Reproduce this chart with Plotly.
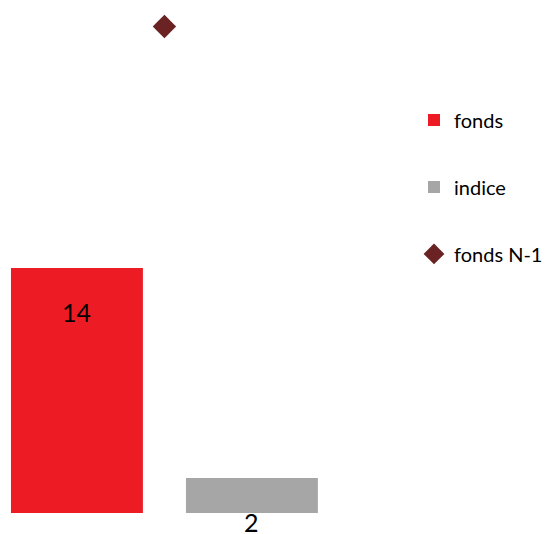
import plotly.graph_objects as go

categories = [""]
fonds = [14]
indice = [2]
fonds_n1 = [27.8]
fonds_labels = ["14"]
indice_labels = ["2"]

RED = "#ED1C24"
GRAY = "#A6A6A6"
DARK = "#6A2222"
FONT = "Lato, 'Noto Sans', sans-serif"

fig = go.Figure()
fig.add_trace(go.Bar(name="fonds", x=categories, y=fonds, marker=dict(color=RED, line=dict(width=0)),
                     legendgroup="a"))
fig.add_trace(go.Bar(name="indice", x=categories, y=indice, marker=dict(color=GRAY, line=dict(width=0)),
                     legendgroup="b"))
fig.add_trace(go.Scatter(name="fonds N-1", x=categories, y=fonds_n1, mode="markers",
                         marker=dict(symbol="diamond", size=18, color=DARK), legendgroup="c"))

# value labels placed below the bar tops
for xi, vals, labs in [(-0.25, fonds, fonds_labels), (0.25, indice, indice_labels)]:
    fig.add_annotation(x=xi, y=vals[0], text=labs[0], showarrow=False, yshift=-44,
                       font=dict(size=25, color="#000000", family=FONT), yanchor="middle")

fig.update_layout(
    width=552, height=526,
    margin=dict(l=0, r=152, t=0, b=21),
    paper_bgcolor="white", plot_bgcolor="white",
    barmode="group", bargap=0, bargroupgap=0.246,
    showlegend=True,
    legend=dict(x=1.015, y=0.817, xanchor="left", yanchor="top",
                font=dict(size=20, color="#000000", family=FONT),
                tracegroupgap=38, bgcolor="rgba(0,0,0,0)"),
    xaxis=dict(range=[-0.447, 0.696], showgrid=False, zeroline=False, showticklabels=False,
               showline=False, ticks=""),
    yaxis=dict(range=[0, 28.86], showgrid=False, zeroline=False, showticklabels=False,
               showline=False, ticks=""),
)

fig.write_html("out.html")
